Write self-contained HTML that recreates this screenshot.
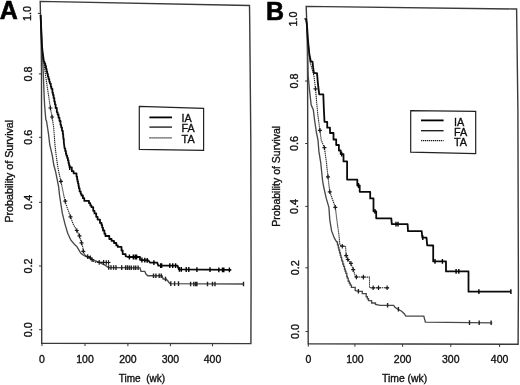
<!DOCTYPE html>
<html><head><meta charset="utf-8"><style>
html,body{margin:0;padding:0;background:#fff;}
svg{display:block;filter:blur(0.3px);}
text{font-family:"Liberation Sans",sans-serif;fill:#111;stroke:#111;stroke-width:0.35px;}
</style></head><body>
<svg width="520" height="385" viewBox="0 0 520 385">
<polygon points="40.2,1.4 249.5,5.5 249.7,20.0 250.8,140.0 251.1,280.0 250.9,343.6 41.7,343.2 41.6,200.0 41.5,70.0 41.2,45.0" fill="none" stroke="#3a3a3a" stroke-width="1.4" stroke-linejoin="miter"/><path d="M37.9 13.4H40.5M38.9 73.9H41.5M39.0 137.3H41.6M39.0 202.3H41.6M39.0 266.0H41.6M39.1 329.7H41.7M42.0 343.2V346.0M85.0 343.3V346.1M127.9 343.4V346.2M170.4 343.4V346.2M212.5 343.5V346.3" stroke="#333" stroke-width="1"/><text x="0" y="0" transform="translate(30.8,13.4) rotate(-90)" text-anchor="middle" font-size="10.8">1.0</text><text x="0" y="0" transform="translate(31.8,73.9) rotate(-90)" text-anchor="middle" font-size="10.8">0.8</text><text x="0" y="0" transform="translate(31.9,137.3) rotate(-90)" text-anchor="middle" font-size="10.8">0.6</text><text x="0" y="0" transform="translate(31.9,202.3) rotate(-90)" text-anchor="middle" font-size="10.8">0.4</text><text x="0" y="0" transform="translate(31.9,266.0) rotate(-90)" text-anchor="middle" font-size="10.8">0.2</text><text x="0" y="0" transform="translate(32.0,329.7) rotate(-90)" text-anchor="middle" font-size="10.8">0.0</text><text x="42.0" y="362.7" text-anchor="middle" font-size="10.5">0</text><text x="85.0" y="362.7" text-anchor="middle" font-size="10.5">100</text><text x="127.9" y="362.7" text-anchor="middle" font-size="10.5">200</text><text x="170.4" y="362.7" text-anchor="middle" font-size="10.5">300</text><text x="212.5" y="362.7" text-anchor="middle" font-size="10.5">400</text><text x="0" y="0" transform="translate(12.5,171.2) rotate(-90)" text-anchor="middle" font-size="10.7">Probability of Survival</text><text x="118.8" y="381.8" font-size="10" xml:space="preserve">Time  (wk)</text><polyline points="40.6,15.0 41.3,30.0 41.9,45.0 42.5,55.0 43.0,66.5 43.5,79.0 44.1,95.0 44.6,105.0 45.8,119.5 46.5,121.0 48.5,134.0 49.8,145.0 50.7,148.7 52.3,155.6 53.8,165.0 55.5,171.2 58.6,186.7 59.5,195.0 62.3,213.2 65.0,224.1 67.7,233.2 70.9,240.2 74.4,244.2 77.1,246.8 79.7,251.3 81.1,253.5 84.2,255.7 87.7,257.0 91.2,258.8 94.8,260.6 99.2,262.3 105.4,265.4 108.3,267.5 140.0,267.8 141.0,271.3 144.8,271.3 145.8,273.8 147.7,275.7 162.1,275.7 163.1,279.0 166.0,279.0 167.9,281.0 169.8,283.6 243.8,284.0" fill="none" stroke="#484848" stroke-width="1.35"/><path d="M108.7 265.2V269.8M111.0 265.2V269.8M113.6 265.2V269.8M116.0 265.3V269.9M121.7 265.3V269.9M125.6 265.3V269.9M127.5 265.3V269.9M129.4 265.4V270.0M131.3 265.4V270.0M133.8 265.4V270.0M135.7 265.4V270.0M138.1 265.5V270.1M153.5 273.4V278.0M155.9 273.4V278.0M159.2 273.4V278.0M161.2 273.4V278.0M165.5 276.7V281.3M170.8 281.3V285.9M174.6 281.3V285.9M178.5 281.3V285.9M190.6 281.7V286.3M193.8 281.7V286.3M195.6 281.7V286.3M196.9 281.7V286.3M207.5 281.7V286.3M212.5 281.7V286.3M215.0 281.7V286.3M243.5 281.7V286.3" stroke="#222" stroke-width="1.4" fill="none"/><polyline points="40.6,15.0 41.3,30.0 41.9,45.0 42.8,55.0 44.0,63.0 44.6,68.0 46.1,79.0 47.2,86.7 48.5,95.0 49.2,100.0 50.4,108.0 52.1,117.0 53.7,127.5 55.0,145.0 56.2,155.6 57.5,165.0 58.6,171.2 60.9,181.3 64.8,200.0 65.9,204.1 70.5,216.8 73.2,224.1 76.8,230.5 79.5,235.9 81.5,242.9 82.8,246.8 83.3,251.3 84.6,254.4 87.7,256.6 90.4,257.9 92.1,259.7 93.9,261.5 95.7,262.3 109.2,262.5" fill="none" stroke="#1a1a1a" stroke-width="1.1" stroke-dasharray="1.3 0.7"/><path d="M50.4 105.7V110.3M48.4 108.0H52.4M52.1 114.7V119.3M50.1 117.0H54.1M60.9 179.0V183.6M58.9 181.3H62.9M65.3 198.9V203.5M63.3 201.2H67.3M70.5 214.5V219.1M68.5 216.8H72.5M76.8 228.2V232.8M74.8 230.5H78.8M79.5 233.6V238.2M77.5 235.9H81.5M81.5 240.6V245.2M79.5 242.9H83.5M83.3 249.0V253.6M81.3 251.3H85.3M87.7 254.3V258.9M85.7 256.6H89.7M90.4 255.6V260.2M88.4 257.9H92.4M92.1 257.4V262.0M90.1 259.7H94.1M99.2 260.1V264.7M97.2 262.4H101.2M103.6 260.1V264.7M101.6 262.4H105.6M106.3 260.2V264.8M104.3 262.5H108.3M108.5 260.2V264.8M106.5 262.5H110.5" stroke="#1a1a1a" stroke-width="1.2" fill="none"/><polyline points="40.6,15.0 41.3,30.0 41.9,45.0 42.6,52.0 44.0,62.0 44.6,62.0 44.6,63.7 45.3,63.7 45.3,66.0 46.0,66.0 46.0,68.8 46.6,68.8 46.6,71.5 47.2,71.5 47.2,73.8 47.9,73.8 47.9,76.6 48.5,76.6 48.5,79.0 49.3,79.0 49.3,81.7 49.9,81.7 49.9,83.6 50.8,83.6 50.8,86.7 51.4,86.7 51.4,88.8 52.4,88.8 52.4,92.7 53.0,92.7 53.0,95.0 53.6,95.0 53.6,97.9 54.3,97.9 54.3,101.5 54.9,101.5 54.9,104.3 55.6,104.3 55.6,108.0 56.8,108.0 56.8,112.1 57.6,112.1 57.6,114.5 58.5,114.5 58.5,117.7 59.5,117.7 59.5,121.0 60.5,121.0 60.5,124.8 61.2,124.8 61.2,127.5 62.0,127.5 62.0,130.7 62.8,130.7 62.8,134.0 63.2,134.0 63.2,136.9 63.4,136.9 63.4,138.9 63.8,138.9 63.8,142.0 64.6,148.5 65.2,148.5 65.2,151.0 65.9,151.0 65.9,153.7 66.4,153.7 66.4,155.6 67.2,155.6 67.2,157.9 67.9,157.9 67.9,160.2 68.5,160.2 68.5,162.9 69.0,162.9 69.0,165.1 69.5,165.1 69.5,167.3 71.8,167.3 71.8,171.2 73.6,171.2 73.6,173.3 76.5,173.3 76.5,176.6 77.1,176.6 77.1,179.2 77.5,179.2 77.5,181.4 78.0,181.4 78.0,183.6 78.5,183.6 78.5,185.9 78.9,185.9 78.9,188.2 79.6,188.2 79.6,191.4 80.7,191.4 80.7,193.8 81.5,193.8 81.5,195.5 82.9,195.5 82.9,198.2 84.3,198.2 84.3,200.9 89.0,200.9 89.0,203.2 90.3,203.2 90.3,205.4 91.4,205.4 91.4,207.1 93.2,207.1 93.2,210.8 94.5,210.8 94.5,213.4 96.2,213.4 96.2,216.8 97.6,216.8 97.6,219.6 100.0,219.6 100.0,222.9 101.5,222.9 101.5,225.0 102.2,225.0 102.2,227.6 103.0,227.6 103.0,230.5 104.4,230.5 104.4,233.7 105.4,233.7 105.4,236.0 109.3,236.0 109.3,239.0 111.6,239.0 111.6,240.9 114.0,240.9 114.0,243.0 116.3,243.0 116.3,245.4 117.8,245.4 117.8,246.9 121.5,246.9 121.5,250.5 122.7,250.5 122.7,254.1 125.6,254.1 125.6,256.1 128.0,257.0 138.1,257.0 140.0,257.0 140.0,259.8 148.5,260.5 150.1,262.7 157.3,262.7 158.3,265.6 177.5,265.6 178.9,269.4 231.3,269.9" fill="none" stroke="#0a0a0a" stroke-width="1.8" stroke-linejoin="round"/><path d="M69.7 165.1V169.9M129.4 254.6V259.4M133.3 254.6V259.4M135.2 254.6V259.4M136.6 254.6V259.4M141.9 257.6V262.4M144.8 257.8V262.6M147.2 258.0V262.8M153.9 260.3V265.1M160.7 263.2V268.0M161.6 263.2V268.0M169.8 263.2V268.0M172.7 263.2V268.0M175.6 263.2V268.0M179.4 267.0V271.8M181.3 267.0V271.8M186.2 267.1V271.9M188.8 267.1V271.9M196.9 267.2V272.0M210.0 267.3V272.1M218.8 267.4V272.2M222.5 267.4V272.2M223.8 267.4V272.2M229.4 267.5V272.3" stroke="#000" stroke-width="1.4" fill="none"/><polygon points="139.3,106.4 203.6,108.3 203.6,150.3 139.3,149.3" fill="#fff" stroke="#222" stroke-width="1.2"/><path d="M149.4 117.4H172" stroke="#000" stroke-width="1.8"/><path d="M149.4 127.1H172" stroke="#222" stroke-width="1.4"/><path d="M149.4 137.9H172" stroke="#1a1a1a" stroke-width="1.2" stroke-dasharray="1.3 0.7"/><text x="181.6" y="121.8" font-size="10.8">IA</text><text x="181.6" y="131.8" font-size="10.8">FA</text><text x="181.6" y="142.6" font-size="10.8">TA</text><text x="-0.3" y="18.7" font-size="25" font-weight="bold" style="stroke:#000;stroke-width:0.6px;fill:#000">A</text>
<polygon points="306.2,6.4 516.6,9.0 517.0,40.0 517.9,110.0 518.4,290.0 518.1,344.2 308.2,343.8 307.8,160.0 307.6,80.0 307.3,40.0" fill="none" stroke="#3a3a3a" stroke-width="1.4" stroke-linejoin="miter"/><path d="M304.0 18.9H306.6M305.0 81.0H307.6M305.2 143.5H307.8M305.3 206.4H307.9M305.4 267.8H308.0M305.6 331.5H308.2M308.3 343.8V346.6M354.9 343.9V346.7M402.6 344.0V346.8M450.8 344.1V346.9M499.6 344.2V347.0" stroke="#333" stroke-width="1"/><text x="0" y="0" transform="translate(297.1,18.9) rotate(-90)" text-anchor="middle" font-size="10.8">1.0</text><text x="0" y="0" transform="translate(298.1,81.0) rotate(-90)" text-anchor="middle" font-size="10.8">0.8</text><text x="0" y="0" transform="translate(298.3,143.5) rotate(-90)" text-anchor="middle" font-size="10.8">0.6</text><text x="0" y="0" transform="translate(298.4,206.4) rotate(-90)" text-anchor="middle" font-size="10.8">0.4</text><text x="0" y="0" transform="translate(298.5,267.8) rotate(-90)" text-anchor="middle" font-size="10.8">0.2</text><text x="0" y="0" transform="translate(298.7,331.5) rotate(-90)" text-anchor="middle" font-size="10.8">0.0</text><text x="308.3" y="362.7" text-anchor="middle" font-size="10.5">0</text><text x="354.9" y="362.7" text-anchor="middle" font-size="10.5">100</text><text x="402.6" y="362.7" text-anchor="middle" font-size="10.5">200</text><text x="450.8" y="362.7" text-anchor="middle" font-size="10.5">300</text><text x="499.6" y="362.7" text-anchor="middle" font-size="10.5">400</text><text x="0" y="0" transform="translate(279.8,176.3) rotate(-90)" text-anchor="middle" font-size="10.5">Probability of Survival</text><text x="382.0" y="382.0" font-size="10.4" xml:space="preserve">Time (wk)</text><polyline points="306.1,18.5 307.2,28.0 307.6,45.0 307.8,60.0 308.1,75.0 309.5,90.0 311.2,105.0 313.3,109.6 314.7,121.0 316.5,133.0 318.0,140.0 318.9,151.4 320.7,162.3 322.5,180.0 323.5,186.0 326.2,198.2 328.9,207.3 329.8,220.0 331.6,230.9 334.4,238.2 336.8,242.0 337.5,242.0 337.5,244.8 338.3,244.8 338.3,247.7 338.9,247.7 338.9,250.0 339.6,250.0 339.6,252.7 340.3,252.7 340.3,255.2 340.9,255.2 340.9,257.3 341.6,257.3 341.6,259.8 342.0,259.8 342.0,261.1 342.8,261.1 342.8,264.0 343.6,264.0 343.6,266.3 344.5,266.3 344.5,269.2 345.2,269.2 345.2,271.2 345.9,271.2 345.9,273.4 346.8,273.4 346.8,276.5 347.3,276.5 347.3,278.1 348.2,278.1 348.2,281.2 349.3,281.2 349.3,283.2 350.2,283.2 350.2,285.1 351.4,285.1 351.4,287.4 355.2,287.4 355.2,290.5 358.4,291.3 362.3,291.3 362.3,293.6 366.2,293.6 366.2,296.7 367.4,296.7 367.4,298.7 368.5,298.7 368.5,300.6 371.6,300.6 371.6,303.0 375.5,303.0 375.5,304.5 380.2,305.3 393.6,305.3 395.0,307.2 397.7,309.2 401.7,311.2 404.4,313.9 405.8,316.1 423.8,316.1 425.4,322.2 492.3,322.8" fill="none" stroke="#484848" stroke-width="1.35"/><path d="M358.4 289.0V293.6M387.6 302.9V307.5M398.4 306.9V311.5M469.5 320.3V324.9M479.2 320.4V325.0M491.1 320.5V325.1" stroke="#222" stroke-width="1.4" fill="none"/><polyline points="306.1,18.5 307.2,28.0 307.8,38.4 309.3,54.0 310.0,62.0 311.5,67.0 313.9,75.6 315.5,88.8 316.7,103.0 318.0,116.0 319.9,130.3 321.2,140.0 324.4,147.7 326.2,160.5 328.0,176.8 328.9,185.0 329.8,191.8 335.3,207.3 337.1,221.8 338.9,234.5 339.8,244.0 340.8,246.2 345.5,246.2 346.2,255.6 347.8,259.5 350.9,263.4 353.2,269.6 355.6,277.0 369.5,277.1 369.5,287.8 388.9,287.8" fill="none" stroke="#1a1a1a" stroke-width="1.1" stroke-dasharray="1.3 0.7"/><path d="M315.5 86.5V91.1M313.5 88.8H317.5M319.9 128.0V132.6M317.9 130.3H321.9M324.4 145.4V150.0M322.4 147.7H326.4M328.0 174.5V179.1M326.0 176.8H330.0M329.8 189.5V194.1M327.8 191.8H331.8M335.3 205.0V209.6M333.3 207.3H337.3M342.3 243.9V248.5M340.3 246.2H344.3M346.2 253.3V257.9M344.2 255.6H348.2M347.8 257.2V261.8M345.8 259.5H349.8M350.9 261.1V265.7M348.9 263.4H352.9M353.2 267.3V271.9M351.2 269.6H355.2M356.4 274.7V279.3M354.4 277.0H358.4M363.4 274.8V279.4M361.4 277.1H365.4M373.2 285.5V290.1M371.2 287.8H375.2M378.5 285.5V290.1M376.5 287.8H380.5M387.1 285.5V290.1M385.1 287.8H389.1" stroke="#1a1a1a" stroke-width="1.2" fill="none"/><polyline points="306.1,18.5 307.2,28.0 307.8,38.4 309.3,54.0 310.9,61.7 312.5,61.7 313.1,67.0 313.9,73.2 317.0,73.2 317.9,83.4 319.2,94.4 323.3,94.4 323.9,110.0 324.5,121.8 327.2,121.8 327.2,127.7 330.0,127.7 330.0,133.0 333.5,133.0 333.5,139.5 336.2,139.5 336.2,145.0 338.9,145.0 338.9,150.5 340.7,150.5 340.7,154.1 343.5,154.1 343.5,161.4 347.1,161.4 347.1,179.6 357.3,179.7 357.3,185.5 359.7,185.5 359.7,191.8 370.2,191.8 370.2,198.4 373.5,198.4 373.5,211.3 376.2,211.3 376.2,218.3 391.3,218.3 391.8,224.1 407.6,224.1 408.0,231.1 421.7,231.1 422.3,237.7 426.5,237.7 427.2,245.4 433.2,245.5 433.2,261.4 446.0,261.4 446.0,271.4 468.5,271.4 468.5,291.7 510.9,291.7" fill="none" stroke="#0a0a0a" stroke-width="1.8" stroke-linejoin="round"/><path d="M341.7 151.7V156.5M358.5 183.1V187.9M375.0 208.9V213.7M396.0 221.7V226.5M398.0 221.7V226.5M422.8 235.3V240.1M435.0 259.0V263.8M442.4 259.0V263.8M456.1 269.0V273.8M458.8 269.0V273.8M478.9 289.3V294.1M510.9 289.3V294.1" stroke="#000" stroke-width="1.4" fill="none"/><polygon points="410.7,110.7 475.7,111.4 475.7,153.6 410.7,152.1" fill="#fff" stroke="#222" stroke-width="1.2"/><path d="M421 120.4H443.6" stroke="#000" stroke-width="1.8"/><path d="M421 130.7H443.6" stroke="#222" stroke-width="1.4"/><path d="M421 140.7H443.6" stroke="#1a1a1a" stroke-width="1.2" stroke-dasharray="1.3 0.7"/><text x="453.9" y="125.8" font-size="10.8">IA</text><text x="453.9" y="135.8" font-size="10.8">FA</text><text x="453.9" y="146.0" font-size="10.8">TA</text><text x="266.1" y="19.9" font-size="25" font-weight="bold" style="stroke:#000;stroke-width:0.6px;fill:#000">B</text>
</svg>
</body></html>
